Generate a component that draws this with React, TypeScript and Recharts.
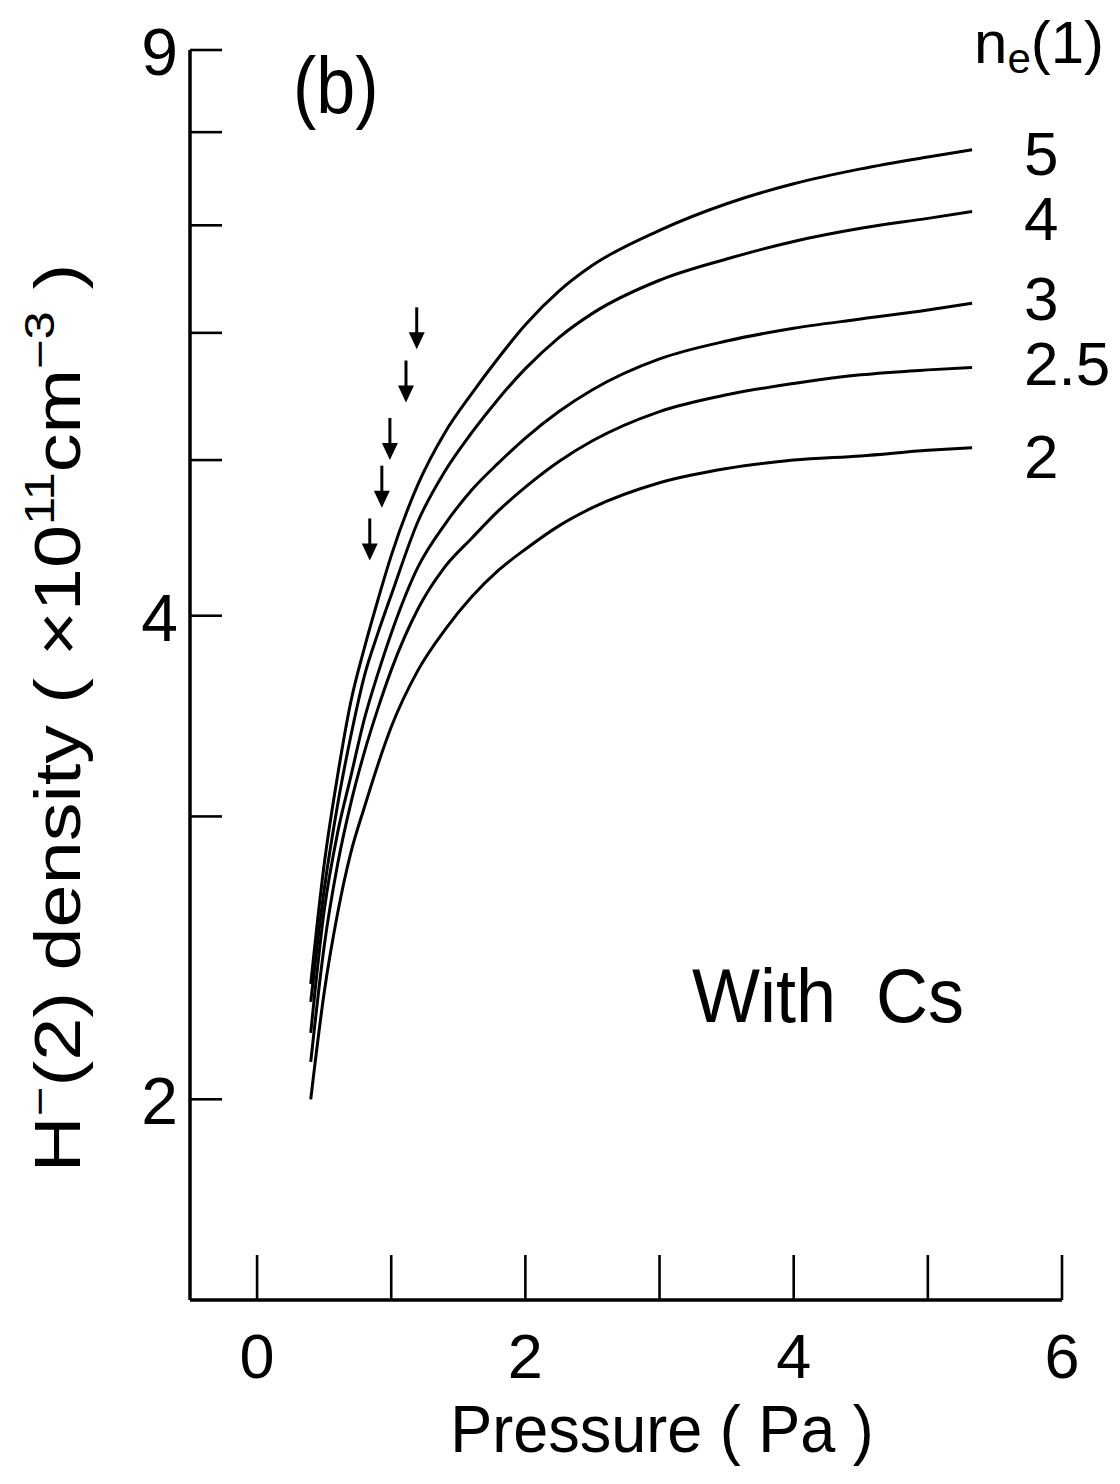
import React from "react";
import { ComposedChart, Line, Scatter, XAxis, YAxis, Customized } from "recharts";

// ---- data ----
const pressure = [0.4, 0.5, 0.6, 0.7, 0.8, 0.9, 1.0, 1.2, 1.4, 1.6, 1.8, 2.0, 2.25, 2.5, 3.0, 3.5, 4.0, 4.5, 5.0, 5.33];
const ne5 = [2.36, 2.8, 3.18, 3.54, 3.82, 4.09, 4.36, 4.83, 5.2, 5.5, 5.79, 6.07, 6.37, 6.61, 6.95, 7.22, 7.43, 7.59, 7.72, 7.8];
const ne4 = [2.3, 2.7, 3.05, 3.37, 3.67, 3.9, 4.12, 4.58, 4.92, 5.2, 5.46, 5.7, 5.96, 6.17, 6.47, 6.67, 6.84, 6.97, 7.07, 7.14];
const ne3 = [2.2, 2.62, 2.93, 3.18, 3.45, 3.68, 3.9, 4.29, 4.56, 4.79, 4.98, 5.16, 5.36, 5.53, 5.78, 5.93, 6.04, 6.12, 6.2, 6.26];
const ne25 = [2.11, 2.49, 2.8, 3.06, 3.29, 3.5, 3.7, 4.04, 4.29, 4.47, 4.65, 4.81, 4.99, 5.14, 5.36, 5.49, 5.58, 5.65, 5.69, 5.71];
const ne2 = [2.0, 2.33, 2.61, 2.85, 3.04, 3.23, 3.41, 3.7, 3.92, 4.11, 4.27, 4.4, 4.55, 4.67, 4.84, 4.94, 5.0, 5.03, 5.07, 5.09];

const seriesKeys = ["ne5", "ne4", "ne3", "ne25", "ne2"];
const seriesLabels = ["5", "4", "3", "2.5", "2"];

const arrowP = [1.19, 1.11, 0.99, 0.93, 0.84];
const arrowV = [5.86, 5.43, 5.0, 4.67, 4.33];

const xTicks = [0, 1, 2, 3, 4, 5, 6];
const xLabeled = [0, 2, 4, 6];
const yTicks = [2, 3, 4, 5, 6, 7, 8, 9];
const yLabeled = [2, 4, 9];

const rows = pressure.map((p, i) => ({
  p,
  ne5: ne5[i],
  ne4: ne4[i],
  ne3: ne3[i],
  ne25: ne25[i],
  ne2: ne2[i],
}));
const arrowData = arrowP.map((p, i) => ({ p, v: arrowV[i] }));

// ---- styling ----
const FONT = "'Liberation Sans', Arial, Helvetica, sans-serif";
const SY = 1.14;
const labelDy: Record<string, number> = { "5": 3, "4": 6, "3": -5, "2.5": -4, "2": 8 };

function T(props: { x: number; y: number; size: number; anchor?: string; sy?: number; children: any }) {
  const { x, y, size, anchor = "start", sy = SY, children } = props;
  return (
    <text
      transform={`translate(${x},${y}) scale(1,${sy})`}
      fontSize={size}
      textAnchor={anchor}
      fontFamily={FONT}
      fill="#000"
    >
      {children}
    </text>
  );
}

const YTick = (props: any) => {
  const { x, y, payload } = props;
  const v = payload.value;
  return (
    <g>
      <line x1={x} x2={x + 32} y1={y} y2={y} stroke="#000" strokeWidth={2.6} />
      {yLabeled.includes(v) && (
        <T x={x - 12} y={y + 25} size={66} anchor="end" sy={1}>
          {v}
        </T>
      )}
    </g>
  );
};

const XTick = (props: any) => {
  const { x, y, payload } = props;
  const v = payload.value;
  return (
    <g>
      <line x1={x} x2={x} y1={y} y2={y - 45} stroke="#000" strokeWidth={2.6} />
      {xLabeled.includes(v) && (
        <T x={x} y={y + 78} size={63} anchor="middle" sy={1}>
          {v}
        </T>
      )}
    </g>
  );
};

const endLabel = (text: string) => (props: any) => {
  const { x, y, index } = props;
  if (index !== pressure.length - 1) return <g />;
  return (
    <T x={x + 52} y={y + 22 + (labelDy[text] || 0)} size={62} sy={1}>
      {text}
    </T>
  );
};

const ArrowShape = (props: any) => {
  const { cx, cy } = props;
  return (
    <g>
      <line x1={cx} x2={cx} y1={cy - 42} y2={cy - 10} stroke="#000" strokeWidth={3} />
      <path d={`M${cx - 8},${cy - 17} L${cx + 8},${cy - 17} L${cx},${cy} Z`} fill="#000" />
    </g>
  );
};

const Overlay = () => (
  <g>
    <T x={285} y={105} size={70}>
      (b)
    </T>
    <text transform="translate(966,55)" fontSize={60} fontFamily={FONT} fill="#000">
      n
      <tspan fontSize={42} dy={10}>
        e
      </tspan>
      <tspan dy={-10}>(1)</tspan>
    </text>
    <T x={684} y={1014} size={72} sy={1.06}>
      {"With\u00A0\u00A0Cs"}
    </T>
    <T x={654} y={1444} size={63} anchor="middle" sy={1.06}>
      Pressure ( Pa )
    </T>
    <text
      transform="translate(72,710) rotate(-90) scale(1.21,1)"
      fontSize={64}
      fontFamily={FONT}
      textAnchor="middle"
      fill="#000"
    >
      H
      <tspan fontSize={42} dy={-26}>
        {"\u2212"}
      </tspan>
      <tspan dy={26}>{"(2) density ( \u00D710"}</tspan>
      <tspan fontSize={42} dy={-26}>
        11
      </tspan>
      <tspan dy={26}>cm</tspan>
      <tspan fontSize={42} dy={-26}>
        {"\u22123"}
      </tspan>
      <tspan dy={26}>{" )"}</tspan>
    </text>
  </g>
);

export default function App() {
  return (
    <div style={{ width: 1104, height: 1468, background: "#fff" }}>
      <ComposedChart
        width={1104}
        height={1468}
        data={rows}
        margin={{ top: 42, right: 50, left: 122, bottom: 116 }}
      >
        <XAxis
          dataKey="p"
          type="number"
          domain={[-0.5, 6]}
          ticks={xTicks}
          allowDataOverflow
          height={60}
          axisLine={{ stroke: "#000", strokeWidth: 3.5 }}
          tickLine={false}
          tickSize={0}
          tickMargin={0}
          tick={(p: any) => <XTick {...p} />}
          interval={0}
        />
        <YAxis
          type="number"
          scale="log"
          domain={[1.5, 9]}
          ticks={yTicks}
          allowDataOverflow
          width={60}
          axisLine={{ stroke: "#000", strokeWidth: 3.5 }}
          tickLine={false}
          tickSize={0}
          tickMargin={0}
          tick={(p: any) => <YTick {...p} />}
          interval={0}
        />
        {seriesKeys.map((k, i) => (
          <Line
            key={k}
            dataKey={k}
            type="monotone"
            stroke="#000"
            strokeWidth={3}
            dot={false}
            activeDot={false}
            isAnimationActive={false}
            label={endLabel(seriesLabels[i])}
          />
        ))}
        <Scatter data={arrowData} dataKey="v" shape={(p: any) => <ArrowShape {...p} />} isAnimationActive={false} />
        <Customized component={Overlay} />
      </ComposedChart>
    </div>
  );
}
